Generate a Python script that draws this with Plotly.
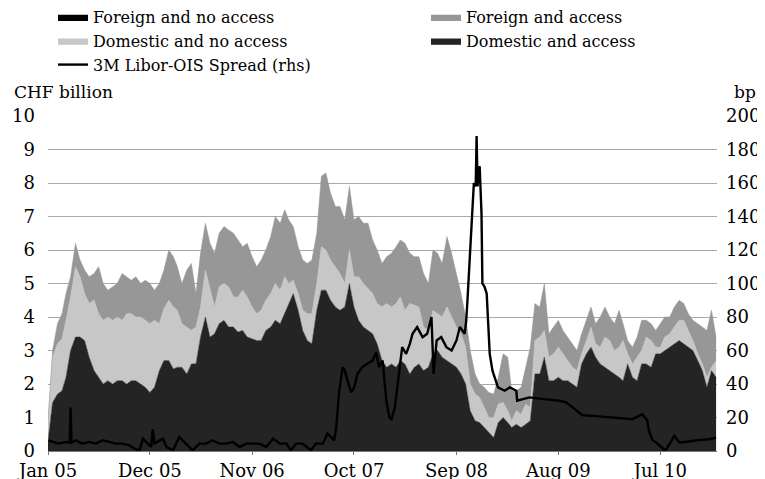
import plotly.graph_objects as go

# semi-monthly observation dates, Jan 2005 - Dec 2010
dates = [f"{y}-{m:02d}-{d:02d}" for y in range(2005, 2011) for m in range(1, 13) for d in (1, 16)]
dates.append("2010-12-31")

# stack levels (CHF billion)
domestic_access = [
    0.3, 1.45, 1.7, 1.8, 2.2, 3.0, 3.4, 3.4, 3.3, 2.8,
    2.4, 2.2, 2.0, 2.1, 2.0, 2.1, 2.1, 2.0, 2.1, 2.1,
    2.0, 1.9, 1.75, 1.9, 2.4, 2.7, 2.7, 2.45, 2.5, 2.5,
    2.3, 2.6, 2.6, 3.4, 4.0, 3.4, 3.5, 3.8, 3.9, 3.7,
    3.7, 3.55, 3.6, 3.4, 3.35, 3.3, 3.3, 3.6, 3.7, 3.9,
    3.8, 4.1, 4.4, 4.7, 4.2, 3.6, 3.3, 3.2, 4.2, 4.8,
    4.8, 4.5, 4.3, 4.2, 4.3, 5.0, 4.3, 3.9, 3.7, 3.6,
    3.5, 3.2, 2.7, 2.5, 2.6, 2.5, 2.7, 2.6, 2.3, 2.5,
    2.6, 2.4, 2.5, 2.9, 3.0, 2.8, 2.7, 2.6, 2.5, 2.3,
    2.0, 1.2, 0.9, 0.85, 0.7, 0.55, 0.4, 0.85, 1.0, 0.85,
    0.7, 0.8, 0.7, 0.8, 0.9, 2.3, 2.3, 2.8, 2.1, 2.1,
    2.2, 2.1, 2.1, 2.0, 1.9, 2.6, 2.9, 3.1, 2.8, 2.6,
    2.5, 2.4, 2.3, 2.2, 2.1, 2.6, 2.2, 2.1, 2.6, 2.6,
    2.5, 2.9, 2.9, 3.0, 3.1, 3.2, 3.3, 3.2, 3.1, 3.0,
    2.7, 2.4, 1.9, 2.4, 2.2,
]
domestic_no_access_top = [
    0.9, 2.8, 3.2, 3.35, 3.9, 4.6, 5.5, 5.2, 4.7, 4.4,
    4.5, 4.1, 3.9, 4.0, 3.9, 4.0, 3.9, 4.1, 4.1, 4.0,
    4.0, 3.9, 3.8, 3.9, 3.8, 4.25, 4.5, 4.3, 4.2, 3.8,
    3.7, 3.6, 3.7, 4.3, 5.4, 4.8, 4.3, 4.9, 5.0, 4.9,
    4.6, 4.6, 4.8, 4.6, 4.3, 4.1, 4.2, 4.5, 4.7, 5.0,
    4.8, 5.2, 5.0, 5.1, 4.7, 4.2, 4.1, 4.1, 5.0, 6.1,
    6.0, 5.7, 5.5, 5.3, 5.0, 6.0, 5.2, 5.2, 5.0, 4.85,
    4.7, 4.4, 4.3, 4.4, 4.3, 4.4, 4.6, 4.2, 4.4, 4.35,
    4.3, 3.7, 3.6, 4.2, 4.1, 4.0, 4.3, 4.0, 3.7, 3.5,
    3.1, 2.0, 1.7, 1.6, 1.3, 1.0, 1.0, 1.4, 1.45, 1.2,
    0.9, 1.2, 1.1, 1.4, 1.3, 3.3, 3.4, 3.6, 2.8, 2.9,
    3.1, 2.9, 2.7, 2.5, 2.4, 2.9, 3.3, 3.7, 3.2, 3.1,
    3.4, 3.3, 3.0, 3.1, 3.3, 2.9, 2.6, 2.8, 3.0, 3.4,
    3.3, 3.1, 3.1, 3.4, 3.5, 3.7, 3.9, 3.9, 3.6, 3.3,
    2.9, 2.6, 2.2, 2.5, 2.7,
]
foreign_access_top = [
    0.9, 3.0, 3.8, 4.1, 4.7, 5.2, 6.2, 5.7, 5.4, 5.2,
    5.3, 5.5, 5.0, 4.8, 4.9, 5.0, 5.3, 5.2, 5.1, 5.2,
    5.0, 5.1, 5.0, 4.8, 5.0, 5.4, 6.0, 5.8, 5.5, 5.0,
    5.4, 5.6, 4.7, 5.9, 6.8, 6.2, 5.9, 6.5, 6.7, 6.6,
    6.5, 6.3, 6.1, 6.2, 5.8, 5.5, 5.7, 6.0, 6.4, 7.0,
    6.8, 7.2, 6.9, 6.7, 6.1, 5.7, 5.6, 5.7, 6.5, 8.2,
    8.3, 7.7, 7.3, 7.3, 6.9, 7.9, 6.9, 7.0, 6.8, 6.8,
    6.3, 6.0, 5.6, 5.8, 5.9, 6.1, 6.3, 6.2, 5.9, 5.8,
    5.8, 5.3, 5.0, 6.0, 5.9, 5.6, 6.4, 5.9, 5.3, 4.7,
    4.0, 3.0, 2.3, 2.0, 1.9, 1.75, 1.7, 2.2, 2.9, 2.8,
    1.8, 1.8, 1.9, 2.5, 3.1, 4.4, 4.3, 5.0, 3.5, 3.7,
    3.9, 3.6, 3.4, 3.2, 3.0, 3.5, 3.9, 4.3, 3.8, 4.0,
    4.3, 4.0, 3.8, 4.2, 3.8, 3.3, 3.1, 3.4, 3.9, 3.9,
    3.8, 3.6, 3.8, 4.0, 4.0, 4.3, 4.5, 4.4, 4.1, 3.9,
    3.8, 3.7, 3.6, 4.2, 3.4,
]

# 3M Libor-OIS spread (bp)
libor_dates = [
    "2005-01-03", "2005-01-17", "2005-02-03", "2005-03-01", "2005-03-13", "2005-03-16", "2005-03-19",
    "2005-04-02", "2005-04-24", "2005-05-16", "2005-06-07", "2005-06-29", "2005-07-21", "2005-08-12",
    "2005-09-03", "2005-09-25", "2005-10-11", "2005-10-28", "2005-11-08", "2005-11-24", "2005-12-05",
    "2005-12-10", "2005-12-16", "2006-01-13", "2006-01-24", "2006-02-15", "2006-03-07", "2006-03-29",
    "2006-04-20", "2006-05-12", "2006-06-03", "2006-06-25", "2006-07-16", "2006-08-08", "2006-08-30",
    "2006-09-21", "2006-10-13", "2006-11-04", "2006-11-25", "2006-12-17", "2007-01-09", "2007-01-31",
    "2007-02-22", "2007-03-08", "2007-03-25", "2007-04-16", "2007-05-13", "2007-05-29", "2007-06-21",
    "2007-07-06", "2007-07-17", "2007-07-28", "2007-08-04", "2007-08-13", "2007-08-25", "2007-09-01",
    "2007-09-10", "2007-09-22", "2007-10-02", "2007-10-12", "2007-10-28", "2007-11-15", "2007-12-01",
    "2007-12-13", "2007-12-22", "2008-01-03", "2008-01-15", "2008-01-25", "2008-02-01", "2008-02-12",
    "2008-02-21", "2008-02-27", "2008-03-07", "2008-03-20", "2008-04-01", "2008-04-10", "2008-04-25",
    "2008-05-13", "2008-05-28", "2008-06-11", "2008-06-18", "2008-06-28", "2008-07-13", "2008-07-30",
    "2008-08-16", "2008-09-01", "2008-09-12", "2008-09-28", "2008-10-03", "2008-10-07", "2008-10-13",
    "2008-10-22", "2008-10-28", "2008-11-03", "2008-11-06", "2008-11-09", "2008-11-16", "2008-11-22",
    "2008-11-25", "2008-12-02", "2008-12-09", "2008-12-19", "2008-12-28", "2009-01-15", "2009-02-06",
    "2009-02-23", "2009-03-16", "2009-03-19", "2009-04-28", "2009-06-16", "2009-08-04", "2009-08-27",
    "2009-09-23", "2009-10-18", "2009-11-21", "2010-01-27", "2010-04-01", "2010-05-03", "2010-05-19",
    "2010-05-25", "2010-06-05", "2010-06-18", "2010-07-15", "2010-07-21", "2010-08-16", "2010-09-02",
    "2010-10-04", "2010-11-05", "2010-12-09", "2010-12-31",
]
libor_ois = [
    6.4, 5.4, 4.4, 5.4, 5, 26, 5,
    6.4, 4.4, 5.4, 4.4, 6.4, 5.4, 4.4,
    4.4, 3.4, 1.4, 0.4, 7.4, 4.4, 2.4,
    13, 4.4, 7.4, 2.4, 0.4, 8.4, 4.4,
    0.4, 4.4, 4.4, 6.4, 4.4, 4.4, 5.4,
    2.4, 4.4, 4.4, 4.4, 2.4, 7.4, 4.4,
    4.4, 0.4, 4.4, 4.4, 0.4, 4.4, 4.4,
    10.4, 8.4, 6.4, 14, 35, 50, 48,
    42, 35, 38, 46, 50, 52, 54,
    59, 50, 54, 30, 20, 19, 26,
    40, 50, 62, 58, 64, 70, 74,
    68, 70, 80, 46, 66, 68, 62,
    60, 66, 74, 70, 78, 90, 112,
    146, 160, 158, 188, 158, 170, 142,
    100, 98, 94, 58, 48, 38, 36,
    38, 36, 30, 32, 31, 30, 29,
    25, 21.5, 21, 20, 19, 22, 18.5,
    12, 6.6, 5, 0.6, 1, 9, 5,
    6, 6.6, 7, 8,
]

tick_vals = ["2005-01-01", "2005-12-01", "2006-11-01", "2007-10-01", "2008-09-01", "2009-08-01", "2010-07-01"]
tick_text = ["Jan 05", "Dec 05", "Nov 06", "Oct 07", "Sep 08", "Aug 09", "Jul 10"]

serif = "DejaVu Serif"
c_dark = "#242424"
c_light = "#c7c7c7"
c_mid = "#979797"

fig = go.Figure()
fig.add_trace(go.Scatter(
    x=dates, y=domestic_access, name="Domestic and access", mode="lines",
    fill="tozeroy", fillcolor=c_dark, line=dict(width=0.5, color=c_dark),
    legend="legend2", legendrank=2,
))
fig.add_trace(go.Scatter(
    x=dates, y=domestic_no_access_top, name="Domestic and no access", mode="lines",
    fill="tonexty", fillcolor=c_light, line=dict(width=0.5, color=c_light),
    legend="legend", legendrank=2,
))
fig.add_trace(go.Scatter(
    x=dates, y=foreign_access_top, name="Foreign and access", mode="lines",
    fill="tonexty", fillcolor=c_mid, line=dict(width=0.5, color=c_mid),
    legend="legend2", legendrank=1,
))
# foreign and no access: too thin to show as an area, legend entry only
fig.add_trace(go.Scatter(
    x=[dates[0], dates[0]], y=[0, 0], name="Foreign and no access", mode="lines",
    fill="tozeroy", fillcolor="black", line=dict(width=0.5, color="black"),
    legend="legend", legendrank=1,
))
fig.add_trace(go.Scatter(
    x=libor_dates, y=libor_ois, name="3M Libor-OIS Spread (rhs)", mode="lines",
    line=dict(width=2.4, color="black"), yaxis="y2",
    legend="legend", legendrank=3,
))

legend_style = dict(
    font=dict(family=serif, size=16, color="black"),
    bgcolor="rgba(0,0,0,0)", borderwidth=0,
    yanchor="top", xanchor="left", traceorder="normal",
    itemwidth=30, tracegroupgap=0,
)
# page body adds an 8px offset, so the figure is 8px smaller on each side
fig.update_layout(
    width=757, height=471,
    margin=dict(l=40, r=48, t=108, b=28, autoexpand=False),
    plot_bgcolor="white", paper_bgcolor="white",
    font=dict(family=serif, size=18, color="black"),
    showlegend=True,
    legend=dict(x=0.0075, y=1.346, **legend_style),
    legend2=dict(x=0.565, y=1.346, **legend_style),
    xaxis=dict(
        type="date", range=["2005-01-01", "2011-01-03"],
        tickvals=tick_vals, ticktext=tick_text,
        ticks="outside", ticklen=3, tickcolor="#777777",
        showline=True, linecolor="#777777", showgrid=False, zeroline=False,
        tickfont=dict(family=serif, size=18),
    ),
    yaxis=dict(
        range=[0, 10], dtick=1, showgrid=True, gridcolor="#a9a9a9", gridwidth=1,
        zeroline=False, showline=False, ticks="", ticklabelstandoff=12,
        tickfont=dict(family=serif, size=18),
    ),
    yaxis2=dict(
        overlaying="y", side="right", range=[0, 200], dtick=20,
        showgrid=False, zeroline=False, showline=False, ticks="", ticklabelstandoff=8,
        tickfont=dict(family=serif, size=18),
    ),
    annotations=[
        dict(text="CHF billion", xref="paper", yref="paper", x=-0.054, y=1.036,
             xanchor="left", yanchor="bottom", showarrow=False,
             font=dict(family=serif, size=17)),
        dict(text="bp", xref="paper", yref="paper", x=1.022, y=1.036,
             xanchor="left", yanchor="bottom", showarrow=False,
             font=dict(family=serif, size=17)),
    ],
)

fig.write_html("out.html")
